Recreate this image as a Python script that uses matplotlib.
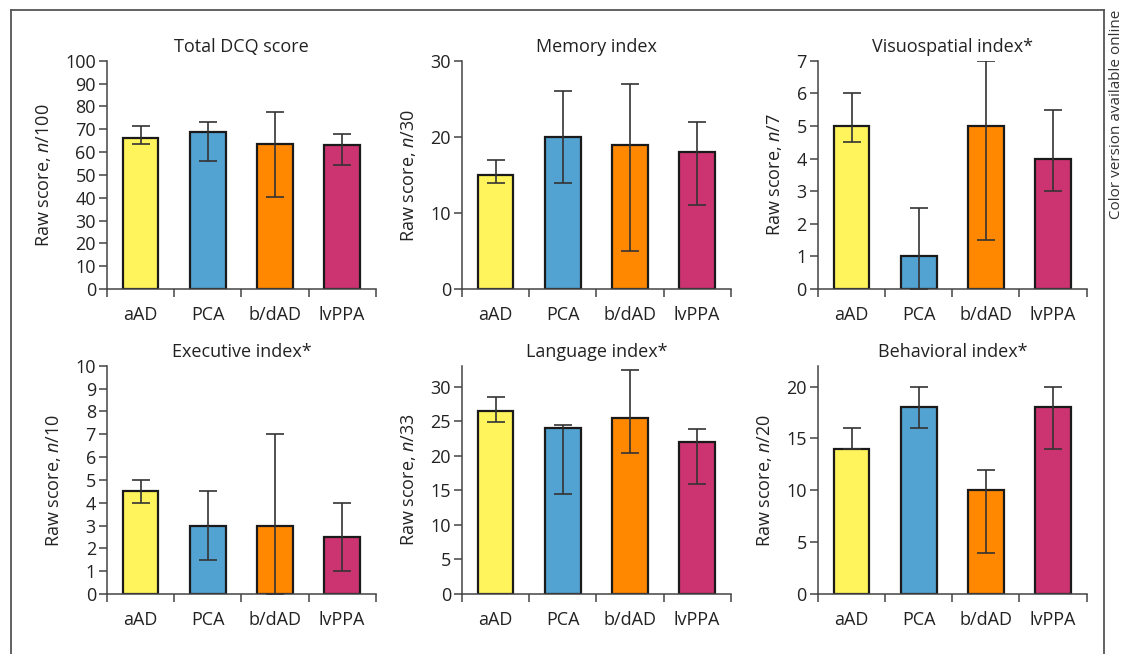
import matplotlib
matplotlib.use('Agg')
import matplotlib.pyplot as plt
from matplotlib.lines import Line2D
import numpy as np

plt.rcParams['font.family'] = ['Open Sans', 'DejaVu Sans']
plt.rcParams['mathtext.fontset'] = 'custom'
plt.rcParams['mathtext.rm'] = 'Open Sans'
plt.rcParams['mathtext.it'] = 'Open Sans:italic'

groups = ['aAD', 'PCA', 'b/dAD', 'lvPPA']
colors = ['#fff45c', '#52a3d2', '#ff8800', '#cc3371']

titles = ['Total DCQ score', 'Memory index', 'Visuospatial index*',
          'Executive index*', 'Language index*', 'Behavioral index*']
maxima = ['100', '30', '7', '10', '33', '20']

# bar heights and error bar ends (low, high)
total_mean = [66, 69, 63.5, 63]
total_low = [63.5, 56, 40.5, 54.2]
total_high = [71.5, 73.4, 77.5, 67.9]

memory_mean = [15, 20, 19, 18]
memory_low = [14, 14, 5, 11]
memory_high = [17, 26, 27, 22]

visuo_mean = [5, 1, 5, 4]
visuo_low = [4.5, 0, 1.5, 3]
visuo_high = [6, 2.5, 7, 5.5]

exec_mean = [4.5, 3, 3, 2.5]
exec_low = [4, 1.5, 0, 1]
exec_high = [5, 4.5, 7, 4]

lang_mean = [26.5, 24, 25.4, 22]
lang_low = [24.9, 14.5, 20.4, 15.9]
lang_high = [28.5, 24.5, 32.4, 23.9]

behav_mean = [14, 18, 10, 18]
behav_low = [14, 16, 4, 14]
behav_high = [16, 20, 12, 20]

means = [total_mean, memory_mean, visuo_mean, exec_mean, lang_mean, behav_mean]
lows = [total_low, memory_low, visuo_low, exec_low, lang_low, behav_low]
highs = [total_high, memory_high, visuo_high, exec_high, lang_high, behav_high]
ylims = [100, 30, 7, 10, 33, 22]
ysteps = [10, 10, 1, 1, 5, 5]
ytops = [100, 30, 7, 10, 30, 20]

fig = plt.figure(figsize=(11.29, 6.54), dpi=100)

lefts = [0.0948, 0.4092, 0.7245]
bottoms = [0.558, 0.0917]
w = 0.238
h = 0.349

for i in range(6):
    r, c = divmod(i, 3)
    ax = fig.add_axes([lefts[c], bottoms[r], w, h])
    x = np.arange(4)
    m = np.array(means[i])
    lo = m - np.array(lows[i])
    hi = np.array(highs[i]) - m
    ax.bar(x, m, width=0.53, color=colors, edgecolor='#1a1a1a', linewidth=1.6, zorder=2)
    ax.errorbar(x, m, yerr=[lo, hi], fmt='none', ecolor='#333333', elinewidth=1.2,
                capsize=6.5, capthick=1.2, zorder=3)
    ax.set_xlim(-0.5, 3.5)
    ax.set_ylim(0, ylims[i])
    ax.set_yticks(np.arange(0, ytops[i] + 0.01, ysteps[i]))
    ax.set_xticks(x)
    ax.set_xticklabels(groups)
    ax.set_xticks(np.arange(-0.5, 4, 1), minor=True)
    ax.tick_params(axis='x', which='major', length=0, pad=12, labelsize=13, colors='#222222')
    ax.tick_params(axis='x', which='minor', length=6, width=1.1, color='#444444', direction='out')
    ax.tick_params(axis='y', length=6, width=1.1, color='#444444', labelsize=13,
                   labelcolor='#222222', pad=2)
    for s in ['top', 'right']:
        ax.spines[s].set_visible(False)
    for s in ['left', 'bottom']:
        ax.spines[s].set_color('#444444')
        ax.spines[s].set_linewidth(1.1)
    ax.set_title(titles[i], fontsize=13, color='#222222', pad=6)
    ax.set_ylabel('Raw score, $\\it{n}$/' + maxima[i], fontsize=13, color='#222222',
                  labelpad=9)

# frame around the figure
fig.add_artist(Line2D([11 / 1129, 11 / 1129], [0, 1 - 10 / 654], transform=fig.transFigure,
                      color='#555555', lw=1.3))
fig.add_artist(Line2D([11 / 1129, 1104 / 1129], [1 - 10 / 654, 1 - 10 / 654],
                      transform=fig.transFigure, color='#555555', lw=1.3))
fig.add_artist(Line2D([1104 / 1129, 1104 / 1129], [0, 1 - 10 / 654], transform=fig.transFigure,
                      color='#555555', lw=1.3))
fig.text(1117 / 1129, 1 - 10 / 654, 'Color version available online', rotation=90,
         ha='center', va='top', fontsize=11, color='#333333')

fig.savefig('out.png', dpi=100)
